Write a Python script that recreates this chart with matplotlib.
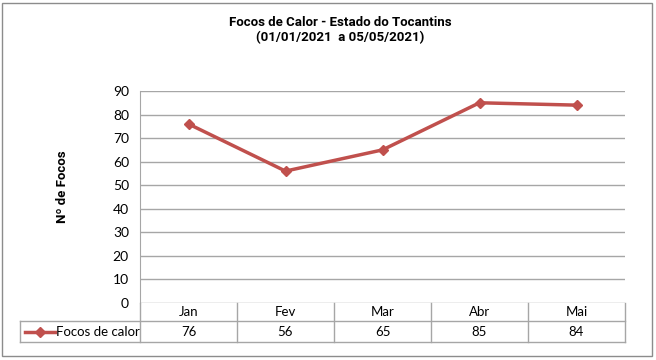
import matplotlib
matplotlib.use("Agg")
import matplotlib.pyplot as plt
from matplotlib.patches import Rectangle
from matplotlib.lines import Line2D

months = ["Jan", "Fev", "Mar", "Abr", "Mai"]
focos = [76, 56, 65, 85, 84]
series_name = "Focos de calor"
title_lines = ["Focos de Calor - Estado do Tocantins", "(01/01/2021  a 05/05/2021)"]
ylabel = "Nº de Focos"
yticks = list(range(0, 91, 10))

W, H = 656, 360
fig = plt.figure(figsize=(W / 100, H / 100), dpi=100)
fig.patch.set_facecolor("white")

head_font = ["Roboto", "DejaVu Sans"]

# outer chart frame
fig.add_artist(Rectangle((2 / W, 4 / H), 650 / W, 353 / H, transform=fig.transFigure,
                         fill=False, edgecolor="#8c8c8c", linewidth=1.0))

px_l, px_r, px_t, px_b = 140, 625, 91, 303
ax = fig.add_axes([px_l / W, (H - px_b) / H, (px_r - px_l) / W, (px_b - px_t) / H])
ax.set_xlim(-0.5, len(months) - 0.5)
ax.set_ylim(0, 90)

line_color = "#C0504D"
grid_color = "#A6A6A6"
tick_font = "Lato"

for s in ax.spines.values():
    s.set_visible(False)
ax.spines["left"].set_visible(True)
ax.spines["left"].set_color(grid_color)
ax.set_xticks([])
ax.set_yticks(yticks)
ax.set_yticklabels([str(v) for v in yticks], fontsize=10, family=tick_font)
ax.tick_params(axis="y", length=0, pad=8)
for v in yticks:
    ax.axhline(v, color=grid_color, linewidth=1.0, zorder=1)

x = list(range(len(months)))
ax.plot(x, focos, color=line_color, linewidth=2.5, marker="D", markersize=5.5,
        zorder=3, clip_on=False)

ah = px_b - px_t
aw = px_r - px_l
ax.text((62 - px_l) / aw, (px_b - 187) / ah, ylabel, transform=ax.transAxes, rotation=90,
        ha="center", va="center", fontsize=9.5, fontweight="bold", family=head_font)

# data table under the plot
r1 = -18 / ah
r2 = -39 / ah
leg_x = (20 - px_l) / aw
tr = ax.transAxes
kw = dict(transform=tr, color=grid_color, linewidth=1.0, clip_on=False)
ax.add_line(Line2D([leg_x, 1], [r1, r1], **kw))
ax.add_line(Line2D([leg_x, 1], [r2, r2], **kw))
ax.add_line(Line2D([leg_x, leg_x], [r1, r2], **kw))
for i in range(len(months) + 1):
    xf = i / len(months)
    ax.add_line(Line2D([xf, xf], [0, r2], **kw))

for i, (m, v) in enumerate(zip(months, focos)):
    xf = (i + 0.5) / len(months)
    ax.text(xf, r1 / 2, m, transform=tr, ha="center", va="center", fontsize=9.5, family=tick_font)
    ax.text(xf, (r1 + r2) / 2, str(v), transform=tr, ha="center", va="center", fontsize=9.5, family=tick_font)

# legend key inside the table
ym = (r1 + r2) / 2
lx0 = (25 - px_l) / aw
lx1 = (55 - px_l) / aw
ax.add_line(Line2D([lx0, lx1], [ym, ym], transform=tr, color=line_color, linewidth=2.5, clip_on=False))
ax.add_line(Line2D([(lx0 + lx1) / 2], [ym], transform=tr, color=line_color, marker="D",
                   markersize=5, linestyle="none", clip_on=False))
ax.text((56 - px_l) / aw, ym, series_name, transform=tr, ha="left", va="center",
        fontsize=9.5, family=tick_font)

fig.text(340 / W, 1 - 22 / H, title_lines[0], ha="center", va="center",
         fontsize=9.5, fontweight="bold", family=head_font)
fig.text(340 / W, 1 - 38 / H, title_lines[1], ha="center", va="center",
         fontsize=9.5, fontweight="bold", family=head_font)

fig.savefig("out.png", dpi=100, facecolor="white")
